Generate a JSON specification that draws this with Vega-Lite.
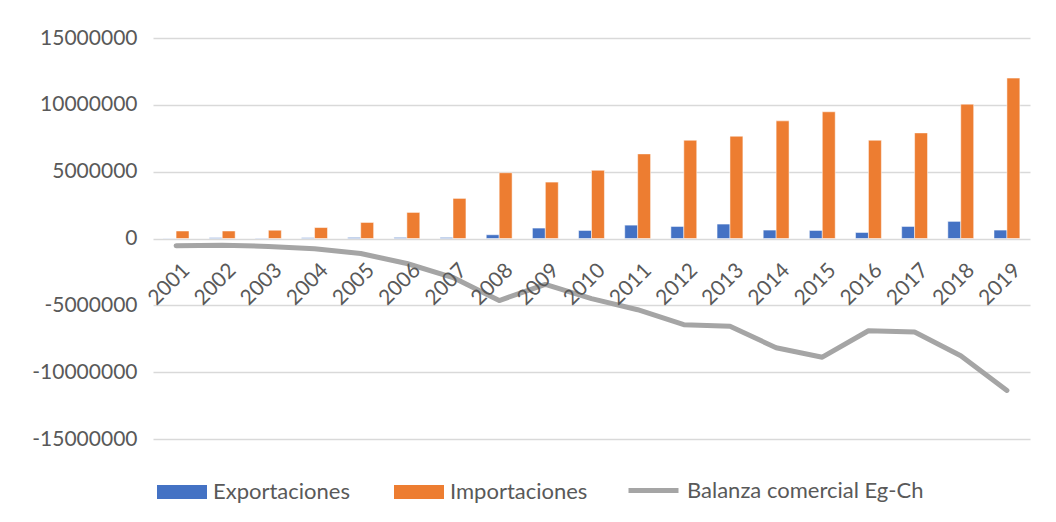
{
  "$schema": "https://vega.github.io/schema/vega-lite/v6.json",
  "width": 877,
  "height": 401,
  "autosize": {"type": "none"},
  "padding": {"left": 153, "top": 38, "right": 26, "bottom": 83},
  "background": "white",
  "config": {
    "font": "Lato",
    "view": {"stroke": null},
    "legend": {"padding": 0}
  },
  "datasets": {
    "bars": [
      {"year": "2001", "serie": "Exportaciones", "valor": 20000},
      {"year": "2002", "serie": "Exportaciones", "valor": 60000},
      {"year": "2003", "serie": "Exportaciones", "valor": 30000},
      {"year": "2004", "serie": "Exportaciones", "valor": 60000},
      {"year": "2005", "serie": "Exportaciones", "valor": 80000},
      {"year": "2006", "serie": "Exportaciones", "valor": 80000},
      {"year": "2007", "serie": "Exportaciones", "valor": 80000},
      {"year": "2008", "serie": "Exportaciones", "valor": 280000},
      {"year": "2009", "serie": "Exportaciones", "valor": 780000},
      {"year": "2010", "serie": "Exportaciones", "valor": 600000},
      {"year": "2011", "serie": "Exportaciones", "valor": 1000000},
      {"year": "2012", "serie": "Exportaciones", "valor": 900000},
      {"year": "2013", "serie": "Exportaciones", "valor": 1080000},
      {"year": "2014", "serie": "Exportaciones", "valor": 630000},
      {"year": "2015", "serie": "Exportaciones", "valor": 600000},
      {"year": "2016", "serie": "Exportaciones", "valor": 450000},
      {"year": "2017", "serie": "Exportaciones", "valor": 900000},
      {"year": "2018", "serie": "Exportaciones", "valor": 1280000},
      {"year": "2019", "serie": "Exportaciones", "valor": 630000},
      {"year": "2001", "serie": "Importaciones", "valor": 560000},
      {"year": "2002", "serie": "Importaciones", "valor": 560000},
      {"year": "2003", "serie": "Importaciones", "valor": 620000},
      {"year": "2004", "serie": "Importaciones", "valor": 820000},
      {"year": "2005", "serie": "Importaciones", "valor": 1200000},
      {"year": "2006", "serie": "Importaciones", "valor": 1950000},
      {"year": "2007", "serie": "Importaciones", "valor": 3000000},
      {"year": "2008", "serie": "Importaciones", "valor": 4920000},
      {"year": "2009", "serie": "Importaciones", "valor": 4220000},
      {"year": "2010", "serie": "Importaciones", "valor": 5100000},
      {"year": "2011", "serie": "Importaciones", "valor": 6330000},
      {"year": "2012", "serie": "Importaciones", "valor": 7350000},
      {"year": "2013", "serie": "Importaciones", "valor": 7650000},
      {"year": "2014", "serie": "Importaciones", "valor": 8800000},
      {"year": "2015", "serie": "Importaciones", "valor": 9480000},
      {"year": "2016", "serie": "Importaciones", "valor": 7350000},
      {"year": "2017", "serie": "Importaciones", "valor": 7900000},
      {"year": "2018", "serie": "Importaciones", "valor": 10050000},
      {"year": "2019", "serie": "Importaciones", "valor": 12000000}
    ],
    "bal": [
      {"year": "2001", "balanza": -540000},
      {"year": "2002", "balanza": -500000},
      {"year": "2003", "balanza": -590000},
      {"year": "2004", "balanza": -760000},
      {"year": "2005", "balanza": -1120000},
      {"year": "2006", "balanza": -1870000},
      {"year": "2007", "balanza": -2920000},
      {"year": "2008", "balanza": -4640000},
      {"year": "2009", "balanza": -3440000},
      {"year": "2010", "balanza": -4500000},
      {"year": "2011", "balanza": -5330000},
      {"year": "2012", "balanza": -6450000},
      {"year": "2013", "balanza": -6570000},
      {"year": "2014", "balanza": -8170000},
      {"year": "2015", "balanza": -8880000},
      {"year": "2016", "balanza": -6900000},
      {"year": "2017", "balanza": -7000000},
      {"year": "2018", "balanza": -8770000},
      {"year": "2019", "balanza": -11370000}
    ]
  },
  "encoding": {
    "x": {
      "field": "year",
      "type": "nominal",
      "scale": {"paddingInner": 0.44, "paddingOuter": 0.22},
      "axis": null
    }
  },
  "layer": [
    {
      "data": {"name": "bars"},
      "mark": {"type": "bar", "stroke": "white", "strokeWidth": 0.5},
      "encoding": {
        "xOffset": {"field": "serie", "type": "nominal", "scale": {"domain": ["Exportaciones", "Importaciones"]}},
        "y": {
          "field": "valor",
          "type": "quantitative",
          "scale": {"domain": [-15000000, 15000000], "nice": false},
          "axis": {
            "title": null,
            "values": [-15000000, -10000000, -5000000, 0, 5000000, 10000000, 15000000],
            "labelExpr": "'' + datum.value",
            "domain": false,
            "ticks": false,
            "labelPadding": 16,
            "labelFontSize": 21,
            "labelColor": "#595959",
            "gridColor": "#D9D9D9",
            "gridWidth": 1.3
          }
        },
        "color": {
          "field": "serie",
          "type": "nominal",
          "scale": {
            "domain": ["Exportaciones", "Importaciones"],
            "range": ["#4472C4", "#ED7D31"]
          },
          "legend": {
            "orient": "none",
            "legendX": 4,
            "legendY": 429,
            "direction": "horizontal",
            "title": null,
            "symbolType": "M-1,-0.28H1V0.28H-1Z",
            "symbolSize": 2500,
            "symbolStrokeWidth": 0,
            "labelFontSize": 22,
            "labelColor": "#595959",
            "labelOffset": 6,
            "labelLimit": 400,
            "columnPadding": 44
          }
        }
      }
    },
    {
      "data": {"name": "bal"},
      "mark": {"type": "line", "strokeWidth": 5, "strokeCap": "round", "strokeJoin": "round"},
      "encoding": {
        "y": {"field": "balanza", "type": "quantitative"},
        "stroke": {
          "datum": "Balanza comercial Eg-Ch",
          "scale": {"domain": ["Balanza comercial Eg-Ch"], "range": ["#A5A5A5"]},
          "legend": {
            "orient": "none",
            "legendX": 473,
            "legendY": 425,
            "direction": "horizontal",
            "title": null,
            "symbolType": "stroke",
            "symbolSize": 2500,
            "symbolStrokeWidth": 5,
            "labelFontSize": 22,
            "labelColor": "#595959",
            "labelOffset": 6,
            "labelLimit": 400
          }
        }
      }
    },
    {
      "data": {"name": "bal"},
      "mark": {"type": "text", "angle": 315, "align": "right", "baseline": "middle", "dx": -13, "dy": 28, "fontSize": 21, "color": "#595959"},
      "encoding": {
        "y": {"datum": 0},
        "text": {"field": "year"}
      }
    }
  ]
}
